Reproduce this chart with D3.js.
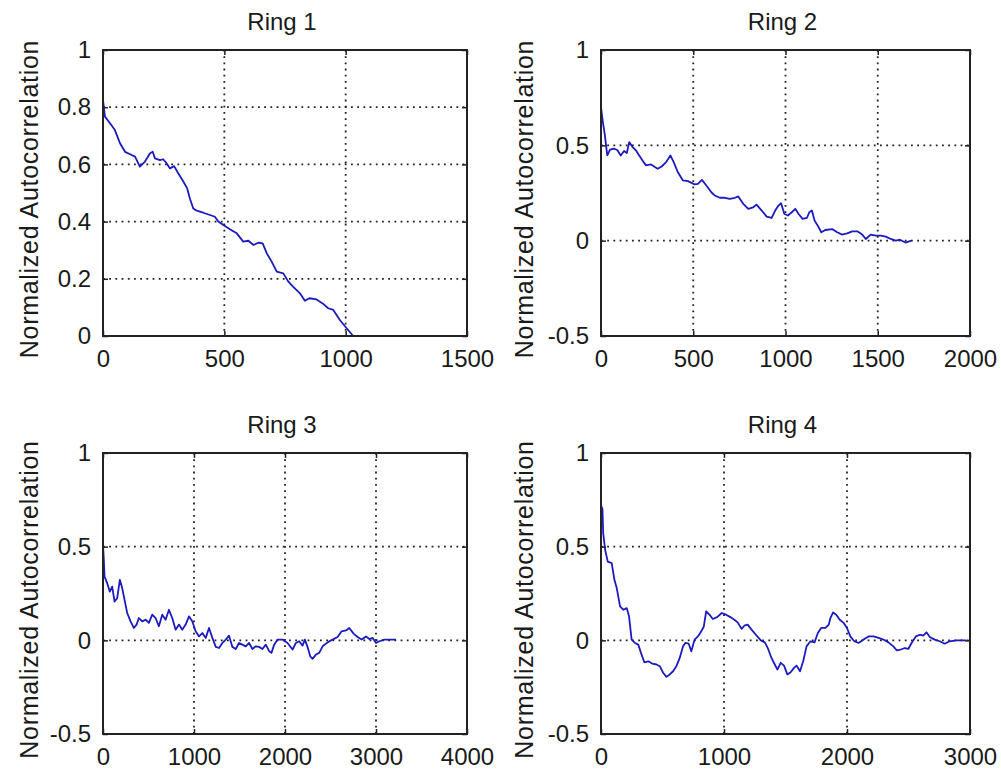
<!DOCTYPE html>
<html>
<head>
<meta charset="utf-8">
<script src="https://cdn.jsdelivr.net/npm/d3@7"></script>
<style>
  html, body { margin: 0; padding: 0; background: #fff; }
  svg text { font-family: "Liberation Sans", Arial, sans-serif; fill: #1a1a1a; }
</style>
</head>
<body>
<div id="chart"></div>
<script>
// values
const ring1Lag = [0,8,29,49,70,91,118,132,152,173,194,205,214,235,248,262,276,293,310,331,347,358,372,386,413,441,461,475,496,523,551,578,599,620,640,658,675,695,716,743,764,784,812,832,850,880,905,928,949,976,1004,1031];
const ring1Acf = [0.825,0.767,0.744,0.72,0.674,0.644,0.633,0.627,0.592,0.61,0.639,0.644,0.621,0.615,0.618,0.604,0.586,0.594,0.569,0.54,0.516,0.481,0.446,0.438,0.431,0.423,0.417,0.40,0.388,0.373,0.359,0.33,0.333,0.318,0.326,0.324,0.289,0.26,0.225,0.219,0.19,0.172,0.149,0.123,0.132,0.128,0.114,0.097,0.091,0.056,0.027,0.0];

const ring2Lag = [0,9,20,34,49,71,89,107,125,140,153,171,189,207,225,243,271,292,307,329,353,376,394,416,444,471,507,525,547,571,598,616,644,671,698,726,744,771,798,825,843,871,898,925,944,962,976,994,1013,1034,1053,1071,1093,1116,1129,1143,1158,1180,1194,1216,1253,1280,1307,1334,1362,1389,1416,1435,1462,1489,1517,1544,1571,1598,1620,1650,1682];
const ring2Acf = [0.70,0.63,0.56,0.447,0.477,0.483,0.474,0.447,0.47,0.46,0.517,0.491,0.474,0.447,0.421,0.395,0.40,0.386,0.377,0.389,0.412,0.447,0.412,0.36,0.316,0.312,0.295,0.298,0.319,0.289,0.254,0.237,0.225,0.225,0.219,0.225,0.232,0.193,0.167,0.175,0.189,0.158,0.126,0.119,0.158,0.184,0.196,0.14,0.132,0.149,0.167,0.14,0.114,0.119,0.149,0.158,0.105,0.07,0.044,0.056,0.061,0.044,0.032,0.038,0.049,0.049,0.032,0.009,0.032,0.026,0.026,0.021,0.009,0.0,0.005,-0.01,0.0];

const ring3Lag = [0,9,17,46,75,101,127,156,185,211,237,266,303,339,369,394,431,468,504,541,578,614,651,688,725,761,798,835,871,908,945,982,1018,1055,1092,1129,1165,1202,1239,1275,1312,1349,1385,1422,1459,1495,1532,1569,1605,1642,1679,1715,1752,1789,1826,1851,1881,1918,1973,2028,2083,2120,2156,2193,2218,2248,2277,2303,2340,2376,2413,2468,2523,2578,2622,2670,2706,2754,2798,2842,2890,2927,2964,3000,3037,3092,3220];
const ring3Acf = [0.51,0.43,0.34,0.305,0.26,0.287,0.207,0.225,0.323,0.279,0.216,0.146,0.101,0.066,0.084,0.119,0.101,0.11,0.093,0.137,0.119,0.075,0.137,0.11,0.163,0.119,0.057,0.084,0.057,0.084,0.128,0.101,0.048,0.021,0.039,0.013,0.066,0.013,-0.035,-0.041,-0.014,0.004,0.025,-0.035,-0.046,-0.014,-0.023,-0.032,-0.014,-0.046,-0.032,-0.035,-0.046,-0.023,-0.058,-0.067,-0.023,0.004,0.004,-0.014,-0.049,-0.014,-0.005,-0.028,0.004,-0.035,-0.085,-0.099,-0.076,-0.067,-0.032,-0.011,0.004,0.018,0.048,0.053,0.066,0.036,0.018,0.004,0.021,0.007,0.013,-0.014,-0.005,0.004,0.004];

const ring4Lag = [0,12,18,34,55,87,109,128,155,182,209,228,249,276,303,325,352,384,416,451,478,505,532,559,586,613,640,667,685,713,734,761,788,815,836,855,882,909,944,982,1017,1052,1084,1111,1143,1165,1192,1224,1259,1299,1332,1359,1386,1413,1434,1461,1488,1515,1542,1569,1590,1618,1644,1671,1703,1736,1763,1790,1825,1852,1865,1887,1913,1941,1973,2000,2027,2059,2094,2135,2175,2216,2256,2297,2337,2377,2404,2436,2471,2498,2525,2560,2592,2620,2646,2673,2713,2754,2794,2834,2889,2970];
const ring4Acf = [0.72,0.70,0.571,0.482,0.42,0.412,0.323,0.279,0.181,0.163,0.172,0.128,0.004,-0.014,-0.023,-0.067,-0.117,-0.112,-0.124,-0.129,-0.138,-0.173,-0.195,-0.182,-0.165,-0.138,-0.094,-0.032,-0.014,-0.018,-0.058,0.004,0.021,0.048,0.074,0.154,0.137,0.114,0.124,0.146,0.137,0.124,0.11,0.096,0.061,0.078,0.084,0.057,0.03,0.0,-0.011,-0.046,-0.094,-0.129,-0.156,-0.12,-0.135,-0.182,-0.17,-0.147,-0.135,-0.165,-0.112,-0.032,-0.005,-0.011,0.039,0.066,0.066,0.084,0.119,0.149,0.137,0.11,0.093,0.066,0.021,-0.005,-0.014,0.004,0.021,0.021,0.013,0.004,-0.011,-0.032,-0.053,-0.049,-0.041,-0.046,-0.014,0.021,0.03,0.025,0.043,0.018,0.004,-0.005,-0.018,-0.005,0.0,0.0];

const titles = ['Ring 1', 'Ring 2', 'Ring 3', 'Ring 4'];
const yLabel = 'Normalized Autocorrelation';

const ring1XTicks = [0, 500, 1000, 1500];
const ring2XTicks = [0, 500, 1000, 1500, 2000];
const ring3XTicks = [0, 1000, 2000, 3000, 4000];
const ring4XTicks = [0, 1000, 2000, 3000];
const ring1YTicks = [0, 0.2, 0.4, 0.6, 0.8, 1];
const signedYTicks = [-0.5, 0, 0.5, 1];

const W = 1001, H = 772;
const lineColor = '#1b1bbf';

const panels = [
  { title: titles[0], lag: ring1Lag, acf: ring1Acf, xt: ring1XTicks, yt: ring1YTicks, l: 103, t: 50, r: 467, b: 336, lx: 38 },
  { title: titles[1], lag: ring2Lag, acf: ring2Acf, xt: ring2XTicks, yt: signedYTicks, l: 601, t: 50, r: 970, b: 336, lx: 533 },
  { title: titles[2], lag: ring3Lag, acf: ring3Acf, xt: ring3XTicks, yt: signedYTicks, l: 103, t: 453, r: 467, b: 734, lx: 38 },
  { title: titles[3], lag: ring4Lag, acf: ring4Acf, xt: ring4XTicks, yt: signedYTicks, l: 601, t: 453, r: 970, b: 734, lx: 533 }
];

const svg = d3.select('#chart').append('svg')
  .attr('width', W)
  .attr('height', H);

svg.append('rect').attr('width', W).attr('height', H).attr('fill', '#fff');

panels.forEach(p => {
  const x = d3.scaleLinear()
    .domain(d3.extent(p.xt))
    .range([p.l, p.r]);
  const y = d3.scaleLinear()
    .domain(d3.extent(p.yt))
    .range([p.b, p.t]);

  const g = svg.append('g');
  const fmt = d => String(d);

  // dotted grid
  g.append('g').selectAll('line')
    .data(p.xt.slice(1, -1))
    .join('line')
    .attr('x1', d => x(d)).attr('x2', d => x(d))
    .attr('y1', p.t).attr('y2', p.b)
    .attr('stroke', '#222')
    .attr('stroke-width', 1.8)
    .attr('stroke-dasharray', '1.8 4.4');
  g.append('g').selectAll('line')
    .data(p.yt.slice(1, -1))
    .join('line')
    .attr('x1', p.l).attr('x2', p.r)
    .attr('y1', d => y(d)).attr('y2', d => y(d))
    .attr('stroke', '#222')
    .attr('stroke-width', 1.8)
    .attr('stroke-dasharray', '1.8 4.4');

  // the series
  const line = d3.line()
    .x((d, i) => x(p.lag[i]))
    .y(d => y(d));
  g.append('path')
    .datum(p.acf)
    .attr('fill', 'none')
    .attr('stroke', lineColor)
    .attr('stroke-width', 1.8)
    .attr('stroke-linejoin', 'round')
    .attr('d', line);

  // axes, ticks pointing inward on all sides
  g.append('g')
    .attr('transform', `translate(0,${p.b})`)
    .call(d3.axisBottom(x).tickValues(p.xt).tickSize(-5).tickPadding(14).tickFormat(fmt));
  g.append('g')
    .attr('transform', `translate(${p.l},0)`)
    .call(d3.axisLeft(y).tickValues(p.yt).tickSize(-5).tickPadding(12).tickFormat(fmt));
  g.append('g')
    .attr('transform', `translate(0,${p.t})`)
    .call(d3.axisTop(x).tickValues(p.xt).tickSize(-5).tickFormat(''));
  g.append('g')
    .attr('transform', `translate(${p.r},0)`)
    .call(d3.axisRight(y).tickValues(p.yt).tickSize(-5).tickFormat(''));

  g.selectAll('.domain').remove();
  g.selectAll('.tick line').attr('stroke', '#222').attr('stroke-width', 1.5);
  g.selectAll('.tick text')
    .attr('font-size', 24)
    .attr('font-family', '"Liberation Sans", Arial, sans-serif')
    .attr('fill', '#1a1a1a');

  // box
  g.append('rect')
    .attr('x', p.l).attr('y', p.t)
    .attr('width', p.r - p.l).attr('height', p.b - p.t)
    .attr('fill', 'none')
    .attr('stroke', '#222')
    .attr('stroke-width', 2);

  // title
  g.append('text')
    .attr('x', (p.l + p.r) / 2 - 3)
    .attr('y', p.t - 20)
    .attr('text-anchor', 'middle')
    .attr('font-size', 24)
    .text(p.title);

  // y label
  g.append('text')
    .attr('transform', `translate(${p.lx},${(p.t + p.b) / 2 + 6}) rotate(-90)`)
    .attr('text-anchor', 'middle')
    .attr('font-size', 25)
    .attr('letter-spacing', 0.7)
    .text(yLabel);
});
</script>
</body>
</html>
